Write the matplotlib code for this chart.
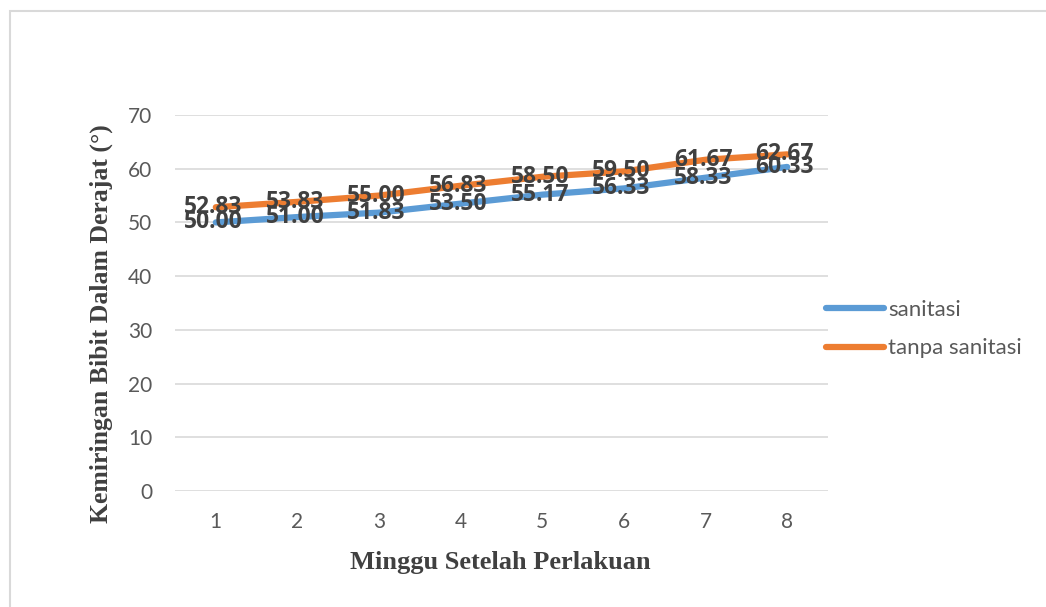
import matplotlib.pyplot as plt
from matplotlib.patches import Rectangle

weeks = [1, 2, 3, 4, 5, 6, 7, 8]
sanitasi = [50.00, 51.00, 51.83, 53.50, 55.17, 56.33, 58.33, 60.33]
tanpa_sanitasi = [52.83, 53.83, 55.00, 56.83, 58.50, 59.50, 61.67, 62.67]
series_names = ['sanitasi', 'tanpa sanitasi']
colors = ['#5B9BD5', '#ED7D31']

W, H = 1046, 607
fig = plt.figure(figsize=(W / 100, H / 100), dpi=100)

# outer chart border (runs off the right and bottom edges)
fig.patches.append(Rectangle((10 / W, -0.05), 1.1, 1 - 11 / H + 0.05,
                             transform=fig.transFigure, fill=False,
                             edgecolor='#D9D9D9', linewidth=1.5))

ax = fig.add_axes([175 / W, 1 - 491 / H, (828 - 175) / W, (491 - 115) / H])

x = list(range(len(weeks)))
for vals, name, c in zip([sanitasi, tanpa_sanitasi], series_names, colors):
    ax.plot(x, vals, color=c, linewidth=4.5, solid_capstyle='round', label=name)

# data labels centred on the points
for vals in [sanitasi, tanpa_sanitasi]:
    for xi, v in zip(x, vals):
        ax.text(xi - 0.03, v, f'{v:.2f}', ha='center', va='center', fontsize=16.5,
                fontweight='bold', color='#404040', family='Open Sans', zorder=5)

ax.set_xlim(-0.5, len(weeks) - 0.5)
ax.set_ylim(0, 70)
ax.set_yticks(range(0, 71, 10))
ax.set_xticks(x)
ax.set_xticklabels([str(w) for w in weeks])
ax.grid(axis='y', color='#D9D9D9', linewidth=1.2)
ax.set_axisbelow(True)
for s in ax.spines.values():
    s.set_visible(False)
ax.tick_params(length=0, labelsize=15, labelcolor='#595959')
ax.tick_params(axis='x', pad=15)
ax.tick_params(axis='y', pad=16.5)
for lbl in ax.get_xticklabels() + ax.get_yticklabels():
    lbl.set_family('Lato')

fig.text(500 / W, 1 - 563 / H, 'Minggu Setelah Perlakuan', ha='center', va='center',
         fontsize=19, fontweight='bold', family='Liberation Serif', color='#404040')
fig.text(101 / W, 1 - 324 / H, 'Kemiringan Bibit Dalam Derajat (°)', ha='center',
         va='center', rotation=90, fontsize=18.5, fontweight='bold',
         family='Liberation Serif', color='#404040')

leg = fig.legend(*ax.get_legend_handles_labels(), loc='center left',
                 bbox_to_anchor=(826 / W, 1 - 329 / H), frameon=False,
                 handlelength=2.6, handletextpad=0.2, labelspacing=0.85,
                 prop={'family': 'Lato', 'size': 16}, borderpad=0,
                 borderaxespad=0)
for t in leg.get_texts():
    t.set_color('#595959')

fig.savefig('out.png', dpi=100, facecolor='white')
